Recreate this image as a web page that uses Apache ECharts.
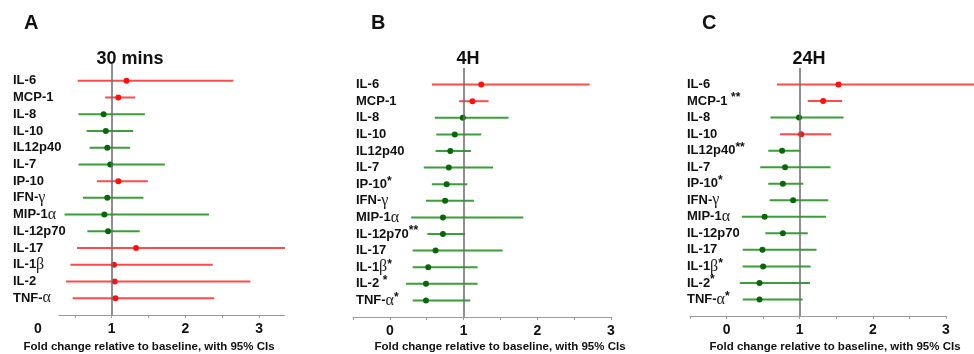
<!DOCTYPE html>
<html>
<head>
<meta charset="utf-8">
<script src="https://cdn.jsdelivr.net/npm/echarts@6/dist/echarts.min.js"></script>
<style>html,body{margin:0;padding:0;background:#fff}#c{width:974px;height:354px}</style>
</head>
<body>
<div id="c"></div>
<script>
// ---- data ----
const rowsA = ['IL-6','MCP-1','IL-8','IL-10','IL12p40','IL-7','IP-10','IFN-γ','MIP-1α','IL-12p70','IL-17','IL-1β','IL-2','TNF-α'];
const estA  = [1.20,1.09,0.89,0.92,0.94,0.98,1.09,0.94,0.90,0.95,1.33,1.03,1.04,1.05];
const lowA  = [0.54,0.91,0.55,0.66,0.70,0.55,0.80,0.61,0.36,0.67,0.53,0.44,0.38,0.47];
const highA = [2.65,1.32,1.45,1.29,1.25,1.72,1.49,1.43,2.32,1.38,3.35,2.37,2.88,2.39];

const rowsB = ['IL-6','MCP-1','IL-8','IL-10','IL12p40','IL-7','IP-10*','IFN-γ','MIP-1α','IL-12p70**','IL-17','IL-1β*','IL-2 *','TNF-α*'];
const estB  = [1.24,1.12,0.99,0.88,0.82,0.80,0.77,0.75,0.72,0.72,0.62,0.52,0.49,0.49];
const lowB  = [0.57,0.94,0.61,0.63,0.62,0.46,0.57,0.49,0.29,0.51,0.31,0.31,0.22,0.31];
const highB = [2.71,1.34,1.61,1.24,1.10,1.40,1.05,1.14,1.81,1.02,1.53,1.19,1.19,1.09];

const rowsC = ['IL-6','MCP-1 **','IL-8','IL-10','IL12p40**','IL-7','IP-10*','IFN-γ','MIP-1α','IL-12p70','IL-17','IL-1β*','IL-2*','TNF-α*'];
const estC  = [1.53,1.32,0.99,1.02,0.76,0.80,0.77,0.91,0.52,0.77,0.49,0.50,0.45,0.45];
const lowC  = [0.69,1.11,0.60,0.73,0.57,0.46,0.57,0.59,0.21,0.53,0.22,0.22,0.18,0.22];
const highC = [3.50,1.58,1.60,1.43,1.01,1.42,1.05,1.39,1.36,1.11,1.23,1.15,1.14,1.04];

const panelLetters = ['A','B','C'];
const panelTitles = ['30 mins','4H','24H'];
const xLabelValues = [0,1,2,3];
const xTickValuesA = [0.5,1,1.5,2,2.5,3];
const xTickValuesBC = [-0.5,0,0.5,1,1.5,2,2.5,3];
const xName = 'Fold change relative to baseline, with 95% CIs';
const refValue = 1;
const axisStartA = 0.28, axisEndA = 3.35;

// ---- build ----
const chart = echarts.init(document.getElementById('c'), null, {renderer:'canvas'});
const SANS = "'Liberation Sans', Arial, sans-serif";

function labelRich(name){
  return name.replace(/([γαβ])/g,'{g|$1}').replace(/(\*+)/g,'{s|$1}');
}
function buildData(lo, est, hi){
  return est.map((e,i)=>[i, lo[i], e, hi[i]]);
}
function renderItem(params, api){
  const y = api.value(0), lo = api.value(1), est = api.value(2), hi = api.value(3);
  const p1 = api.coord([lo, y]), p2 = api.coord([hi, y]), pc = api.coord([est, y]);
  const up = est > refValue;
  return {type:'group', children:[
    {type:'line', shape:{x1:p1[0], y1:p1[1], x2:p2[0], y2:p2[1]}, style:{stroke: up?'#ff4a4a':'#3a9e3a', lineWidth:2}},
    {type:'circle', shape:{cx:pc[0], cy:pc[1], r:3}, style:{fill: up?'#ff1010':'#0b650b'}}
  ]};
}

const grids = [
  {left:38, top:64, width:247, height:251},
  {left:353, top:68, width:258, height:249},
  {left:690, top:68, width:256, height:248}
];
const xRanges = [[0, 3.35],[-0.5,3],[-0.5,3]];
const labelMargins = [25,-3,3];
const names = [rowsA, rowsB, rowsC];
const datas = [buildData(lowA,estA,highA), buildData(lowB,estB,highB), buildData(lowC,estC,highC)];

const xAxis = xRanges.map((r,i)=>({
  type:'value', gridIndex:i, min:r[0], max:r[1], position:'bottom',
  axisLine:{show: i!==0, onZero:false, lineStyle:{color:'#9a9a9a', width:1}},
  axisTick:{show:true, length:3, customValues: i===0?xTickValuesA:xTickValuesBC, lineStyle:{color:'#9a9a9a'}},
  axisLabel:{customValues:xLabelValues, formatter:v=>String(v), color:'#111', fontFamily:SANS, fontWeight:'bold', fontSize:14, margin:7},
  splitLine:{show:false}
}));
const yAxis = names.map((nm,i)=>({
  type:'value', gridIndex:i, min:-1, max:14, interval:1, inverse:true,
  axisLine:{show:false, onZero:false}, axisTick:{show:false}, splitLine:{show:false},
  axisLabel:{
    align:'left', margin:labelMargins[i], color:'#111', fontFamily:SANS, fontWeight:'bold', fontSize:13,
    formatter:v=> (nm[v]!==undefined ? labelRich(nm[v]) : ''),
    rich:{
      g:{fontFamily:"'Liberation Serif','DejaVu Serif',serif", fontWeight:'normal', fontSize:16, color:'#222'},
      s:{fontFamily:SANS, fontWeight:'bold', fontSize:12, color:'#111', verticalAlign:'top', padding:[0,0,6,0]}
    }
  }
}));
const series = datas.map((d,i)=>{
  const ml = [{xAxis:refValue, lineStyle:{color:'#6a6a6a', width:1.5, type:'solid'}}];
  if(i===0){ ml.push([{coord:[axisStartA,14], lineStyle:{color:'#9a9a9a', width:1, type:'solid'}},{coord:[axisEndA,14]}]); }
  return {
    type:'custom', xAxisIndex:i, yAxisIndex:i, renderItem, clip:false, silent:true,
    encode:{x:[1,2,3], y:0}, data:d,
    markLine:{silent:true, symbol:'none', label:{show:false}, animation:false, data:ml}
  };
});

const title = [];
const letterX = [19,366,697];
const titleX = [125,463,804];
const nameX = [144,495,830];
for(let i=0;i<3;i++){
  title.push({text:panelLetters[i], left:letterX[i], top:8, textStyle:{fontFamily:SANS, fontWeight:'bold', fontSize:20, color:'#111'}});
  title.push({text:panelTitles[i], left:titleX[i], top:45, textAlign:'center', textStyle:{fontFamily:SANS, fontWeight:'bold', fontSize:18, color:'#111'}});
  title.push({text:xName, left:nameX[i], top:336, textAlign:'center', textStyle:{fontFamily:SANS, fontWeight:'bold', fontSize:11.5, color:'#111'}});
}

chart.setOption({
  animation:false,
  backgroundColor:'#fff',
  title, grid:grids, xAxis, yAxis, series
});
</script>
</body>
</html>
